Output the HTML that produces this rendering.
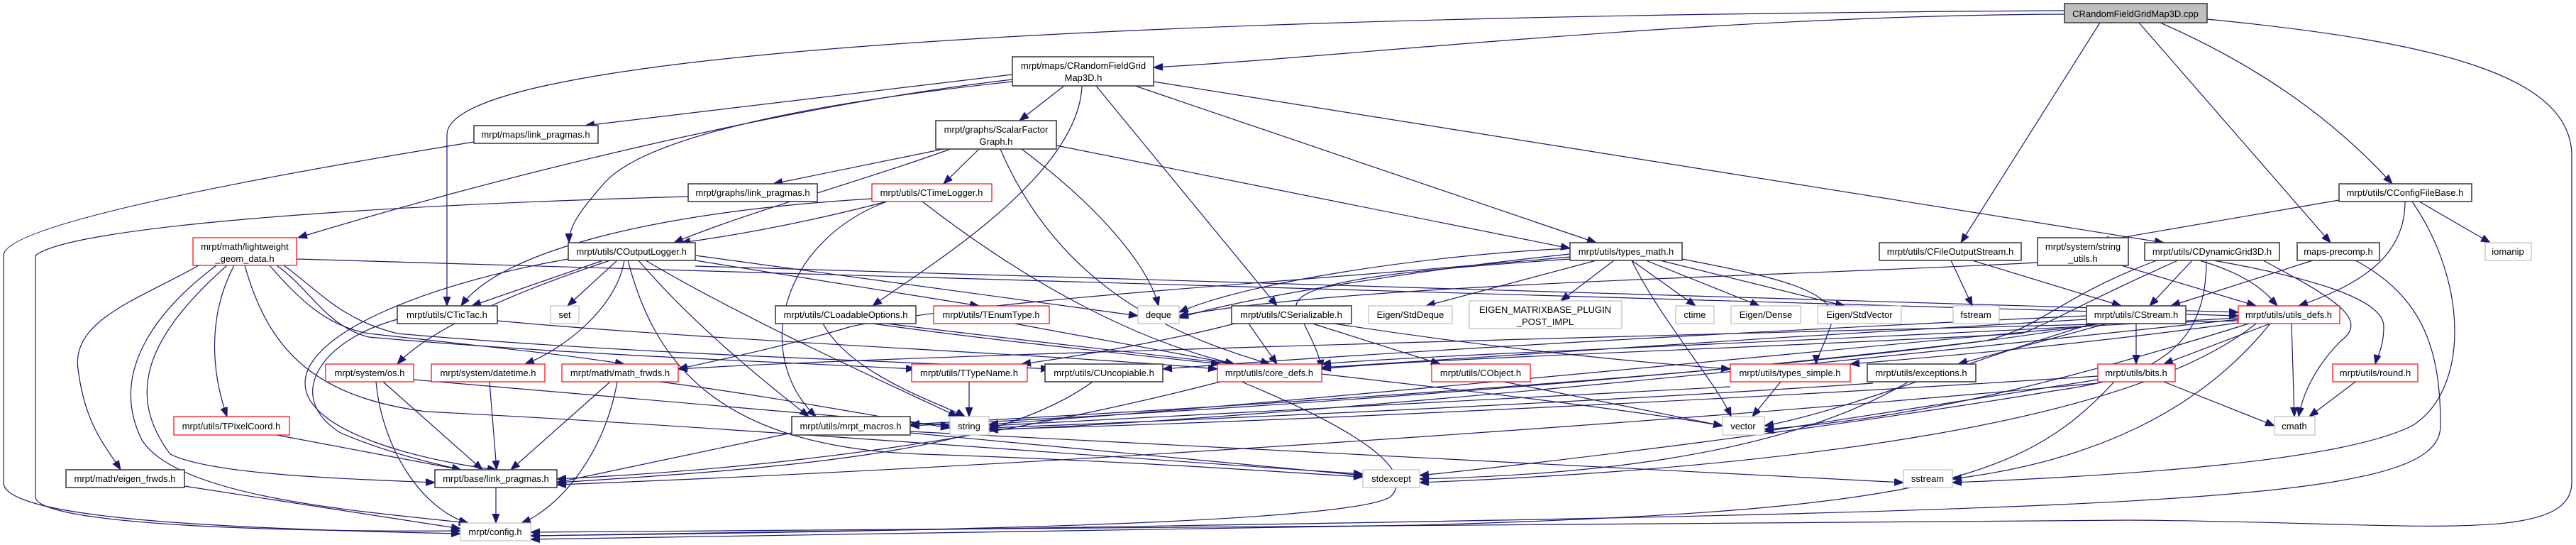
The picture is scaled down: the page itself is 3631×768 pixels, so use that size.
<!DOCTYPE html>
<html><head><meta charset="utf-8"><style>
html,body{margin:0;padding:0;background:#fff;}
svg{display:block;}
text{font-family:"Liberation Sans",sans-serif;font-size:13px;fill:#000;}
.e{fill:none;stroke:#191970;stroke-width:1.2;marker-end:url(#a);}
.b{fill:#fff;stroke:#404040;stroke-width:1.6;}
.r{fill:#fff;stroke:#ff0000;stroke-width:1.2;}
.g{fill:#fff;stroke:#bfbfbf;stroke-width:1.2;}
</style></head><body>
<svg width="3631" height="768" viewBox="0 0 3631 768" xmlns="http://www.w3.org/2000/svg">
<defs><marker id="a" markerUnits="userSpaceOnUse" markerWidth="14" markerHeight="12" refX="13" refY="5" orient="auto"><path d="M0,0 L13,5 L0,10 z" fill="#191970" stroke="#191970"/></marker></defs>
<g>
<!-- cpp -->
<path class="e" d="M2910,20 C2400,22 1900,80 1626,95"/>
<path class="e" d="M2910,15 C1200,25 630,100 630,190 L630,431"/>
<path class="e" d="M2960,32 L2764,342"/>
<path class="e" d="M3015,32 L3285,342"/>
<path class="e" d="M3045,32 C3200,100 3300,180 3372,259"/>
<path class="e" d="M3111,27 C3450,60 3625,110 3625,220 L3625,680 C3625,770 3400,735 3000,733 L748,750"/>
<!-- RFG -->
<path class="e" d="M1427,105 L825,177"/>
<path class="e" d="M1427,112 C1100,150 700,250 420,335"/>
<path class="e" d="M1427,115 C1100,150 900,200 850,260 C815,300 802,320 802,342"/>
<path class="e" d="M1500,121 L1437,170"/>
<path class="e" d="M1525,121 C1520,250 1300,380 1230,431"/>
<path class="e" d="M1545,121 L1800,431"/>
<path class="e" d="M1600,121 L2250,342"/>
<path class="e" d="M1626,115 L3050,342"/>
<!-- link pragmas to config -->
<path class="e" d="M668,200 C300,260 5,320 5,360 L5,680 C5,730 300,745 649,752"/>
<path class="e" d="M970,277 C500,290 100,320 50,360 L50,700 C50,740 400,750 649,748"/>
<!-- SFG -->
<path class="e" d="M1330,210 L1090,259"/>
<path class="e" d="M1340,210 C1200,260 1050,300 950,342"/>
<path class="e" d="M1380,210 L1330,259"/>
<path class="e" d="M1410,210 C1500,420 1680,480 1790,513"/>
<path class="e" d="M1440,210 C1560,300 1620,380 1633,431"/>
<path class="e" d="M1489,205 L2213,350"/>
<!-- CTL -->
<path class="e" d="M1250,284 C1150,310 1050,330 960,342"/>
<path class="e" d="M1229,280 C900,300 700,360 650,431"/>
<path class="e" d="M1250,284 C1100,340 1060,500 1150,587"/>
<path class="e" d="M1300,284 C1450,400 1600,480 1740,513"/>
<!-- COL -->
<path class="e" d="M850,367 L665,431"/>
<path class="e" d="M870,367 L800,431"/>
<path class="e" d="M860,367 C700,420 600,470 560,513"/>
<path class="e" d="M880,367 C870,430 800,490 740,513"/>
<path class="e" d="M980,367 L1380,431"/>
<path class="e" d="M980,360 L1604,445"/>
<path class="e" d="M900,367 C980,460 1080,540 1140,587"/>
<path class="e" d="M910,367 C1050,450 1250,540 1350,587"/>
<path class="e" d="M801,365 C600,400 430,470 430,540 C430,610 600,650 700,662"/>
<path class="e" d="M885,367 C920,500 1000,630 1300,640 C1600,650 1800,665 1921,672"/>
<path class="e" d="M980,375 L3155,440"/>
<!-- LGD -->
<path class="e" d="M280,374 C200,420 100,450 110,520 C120,600 150,630 170,662"/>
<path class="e" d="M330,374 C290,450 300,530 320,587"/>
<path class="e" d="M305,374 C230,430 150,520 200,620 C250,700 500,720 660,737"/>
<path class="e" d="M320,374 C200,480 180,560 240,640 C300,670 500,675 613,680"/>
<path class="e" d="M380,374 C420,420 460,460 520,470 C700,490 800,500 880,513"/>
<path class="e" d="M390,374 C440,410 460,460 520,475 C800,500 1100,510 1290,520"/>
<path class="e" d="M400,374 C450,410 480,450 560,470 C900,500 1300,510 1480,520"/>
<path class="e" d="M418,365 L3155,445"/>
<path class="e" d="M345,374 C380,500 450,560 600,580 C1000,600 1500,640 1921,668"/>
<!-- TicTac -->
<path class="e" d="M560,450 C450,480 400,560 480,610 C550,640 620,655 650,662"/>
<path class="e" d="M701,452 C1000,480 1500,500 1716,520"/>
<!-- row 513 -->
<path class="e" d="M530,538 C540,640 600,720 660,737"/>
<path class="e" d="M540,538 L680,662"/>
<path class="e" d="M583,535 C900,560 1200,590 1339,600"/>
<path class="e" d="M690,538 L700,662"/>
<path class="e" d="M860,538 L720,662"/>
<path class="e" d="M870,538 C850,650 780,720 735,737"/>
<path class="e" d="M930,538 C1100,560 1250,590 1339,603"/>
<path class="e" d="M390,613 L650,662"/>
<path class="e" d="M260,685 L649,745"/>
<path class="e" d="M699,687 L699,737"/>
<!-- CLO TET CSer -->
<path class="e" d="M1160,456 C1200,530 1330,570 1360,587"/>
<path class="e" d="M1230,456 C1400,480 1600,500 1720,513"/>
<path class="e" d="M1250,456 C1600,500 2200,560 2428,600"/>
<path class="e" d="M1430,456 L1740,513"/>
<path class="e" d="M1850,456 L2030,513"/>
<path class="e" d="M1880,456 C2100,490 2300,510 2439,520"/>
<path class="e" d="M1740,456 C1650,480 1500,505 1440,513"/>
<path class="e" d="M1760,456 L1800,513"/>
<path class="e" d="M1366,538 L1366,587"/>
<path class="e" d="M1540,538 C1400,640 1100,660 785,680"/>
<path class="e" d="M1750,538 C1900,600 2000,660 1960,700 C1900,740 1200,750 748,755"/>
<path class="e" d="M1720,538 C1400,620 1100,660 785,675"/>
<path class="e" d="M1116,610 L785,680"/>
<path class="e" d="M1283,608 L2683,680"/>
<path class="e" d="M1283,610 L1921,670"/>
<path class="e" d="M2120,538 L2428,600"/>
<path class="e" d="M2510,538 L2470,587"/>
<path class="e" d="M2439,545 L1394,600"/>
<path class="e" d="M2690,538 C2500,650 2200,670 2001,675"/>
<path class="e" d="M2640,540 C2200,570 1600,595 1394,603"/>
<!-- TM -->
<path class="e" d="M2213,350 C2000,360 1750,400 1662,440"/>
<path class="e" d="M2213,358 C2000,380 1750,420 1662,448"/>
<path class="e" d="M2250,367 L2010,431"/>
<path class="e" d="M2275,367 L2200,424"/>
<path class="e" d="M2300,367 L2390,431"/>
<path class="e" d="M2320,367 L2480,431"/>
<path class="e" d="M2340,367 L2600,431"/>
<path class="e" d="M2300,367 C2340,450 2420,540 2440,587"/>
<path class="e" d="M2213,362 C1800,400 1400,420 1200,460 C1100,490 1000,510 956,520"/>
<path class="e" d="M2371,365 C2500,390 2600,410 2580,460 C2570,490 2560,505 2560,513"/>
<path class="e" d="M2213,365 C2000,380 1800,395 1830,440 C1850,480 1860,500 1863,520"/>
<!-- CFOS SU DG MP CCFB -->
<path class="e" d="M2750,367 L2780,431"/>
<path class="e" d="M2780,367 L2990,431"/>
<path class="e" d="M2872,370 C2500,390 1900,400 1662,445"/>
<path class="e" d="M2990,374 L3180,431"/>
<path class="e" d="M3090,367 L3030,431"/>
<path class="e" d="M3100,367 C3180,390 3200,420 3210,431"/>
<path class="e" d="M3120,367 C3250,390 3360,420 3360,460 C3360,490 3350,505 3348,513"/>
<path class="e" d="M3190,367 C3290,420 3340,450 3300,480 C3260,520 3245,560 3240,587"/>
<path class="e" d="M3070,367 C2950,420 2900,450 2850,470 C2500,490 2000,505 1863,520"/>
<path class="e" d="M3040,367 C2900,420 2880,460 2800,480 C2300,540 1700,580 1283,600"/>
<path class="e" d="M3110,367 C3110,480 3050,530 2900,550 C2600,600 2200,650 2001,670"/>
<path class="e" d="M3260,367 L3060,431"/>
<path class="e" d="M3320,367 C3420,420 3440,500 3440,600 C3440,720 3000,720 748,755"/>
<path class="e" d="M3297,282 L2960,340"/>
<path class="e" d="M3390,284 C3390,360 3330,400 3240,431"/>
<path class="e" d="M3410,284 L3510,342"/>
<path class="e" d="M3400,284 C3480,400 3480,550 3400,600 C3300,650 3000,670 2752,680"/>
<!-- CStream -->
<path class="e" d="M3011,456 L3011,513"/>
<path class="e" d="M2970,456 L2760,513"/>
<path class="e" d="M2941,450 C2600,470 2100,500 1863,518"/>
<path class="e" d="M2941,445 C2400,470 1900,500 1639,520"/>
<path class="e" d="M2941,460 C2500,500 1800,570 1394,598"/>
<path class="e" d="M2950,456 C2800,500 2600,580 2487,600"/>
<path class="e" d="M2960,456 C2600,520 1800,570 1283,598"/>
<!-- UD -->
<path class="e" d="M3200,456 L3050,513"/>
<path class="e" d="M3230,456 L3234,587"/>
<path class="e" d="M3170,456 C2900,540 2700,590 2487,605"/>
<path class="e" d="M3155,450 C2500,520 1800,590 1394,606"/>
<path class="e" d="M3200,456 C3100,580 2950,650 2752,675"/>
<path class="e" d="M3180,456 C3000,600 2500,660 2001,680"/>
<path class="e" d="M3155,455 C2900,490 2700,505 2608,513"/>
<path class="e" d="M3155,452 C2000,480 1200,505 956,520"/>
<path class="e" d="M3155,448 C2600,480 2000,500 1863,513"/>
<!-- bits round -->
<path class="e" d="M3050,538 L3206,600"/>
<path class="e" d="M2980,538 C2850,680 2700,720 2000,740 C1500,750 1000,755 748,760"/>
<path class="e" d="M2957,530 C2500,560 1800,595 1394,605"/>
<path class="e" d="M2957,535 C2800,560 2600,590 2487,608"/>
<path class="e" d="M2957,540 C2300,600 1400,660 785,683"/>
<path class="e" d="M3320,538 L3255,587"/>
</g>
<g>
<rect x="2910" y="5" width="201" height="27" fill="#bfbfbf" stroke="#404040" stroke-width="1.6"/>
<text x="3010" y="24" text-anchor="middle">CRandomFieldGridMap3D.cpp</text>

<rect class="b" x="1427" y="80" width="199" height="41"/>
<text x="1527" y="97" text-anchor="middle">mrpt/maps/CRandomFieldGrid</text><text x="1527" y="114" text-anchor="middle">Map3D.h</text>

<rect class="b" x="668" y="177" width="175" height="25"/><text x="755" y="194" text-anchor="middle">mrpt/maps/link_pragmas.h</text>
<rect class="b" x="1319" y="170" width="170" height="40"/><text x="1404" y="187" text-anchor="middle">mrpt/graphs/ScalarFactor</text><text x="1404" y="204" text-anchor="middle">Graph.h</text>

<rect class="b" x="970" y="259" width="182" height="25"/><text x="1061" y="276" text-anchor="middle">mrpt/graphs/link_pragmas.h</text>
<rect class="r" x="1229" y="259" width="169" height="25"/><text x="1313" y="276" text-anchor="middle">mrpt/utils/CTimeLogger.h</text>
<rect class="b" x="3297" y="259" width="187" height="25"/><text x="3390" y="276" text-anchor="middle">mrpt/utils/CConfigFileBase.h</text>

<rect class="r" x="272" y="335" width="146" height="39"/><text x="345" y="352" text-anchor="middle">mrpt/math/lightweight</text><text x="345" y="369" text-anchor="middle">_geom_data.h</text>
<rect class="b" x="801" y="342" width="179" height="25"/><text x="890" y="359" text-anchor="middle">mrpt/utils/COutputLogger.h</text>
<rect class="b" x="2213" y="342" width="158" height="25"/><text x="2292" y="359" text-anchor="middle">mrpt/utils/types_math.h</text>
<rect class="b" x="2649" y="342" width="200" height="25"/><text x="2749" y="359" text-anchor="middle">mrpt/utils/CFileOutputStream.h</text>
<rect class="b" x="2872" y="335" width="128" height="39"/><text x="2936" y="352" text-anchor="middle">mrpt/system/string</text><text x="2936" y="369" text-anchor="middle">_utils.h</text>
<rect class="b" x="3023" y="342" width="190" height="25"/><text x="3118" y="359" text-anchor="middle">mrpt/utils/CDynamicGrid3D.h</text>
<rect class="b" x="3238" y="342" width="116" height="25"/><text x="3296" y="359" text-anchor="middle">maps-precomp.h</text>
<rect class="g" x="3503" y="342" width="65" height="25"/><text x="3535" y="359" text-anchor="middle">iomanip</text>

<rect class="b" x="560" y="431" width="141" height="25"/><text x="630" y="448" text-anchor="middle">mrpt/utils/CTicTac.h</text>
<rect class="g" x="776" y="431" width="40" height="25"/><text x="796" y="448" text-anchor="middle">set</text>
<rect class="b" x="1093" y="431" width="198" height="25"/><text x="1192" y="448" text-anchor="middle">mrpt/utils/CLoadableOptions.h</text>
<rect class="r" x="1316" y="431" width="163" height="25"/><text x="1397" y="448" text-anchor="middle">mrpt/utils/TEnumType.h</text>
<rect class="g" x="1604" y="431" width="58" height="25"/><text x="1633" y="448" text-anchor="middle">deque</text>
<rect class="b" x="1736" y="431" width="169" height="25"/><text x="1820" y="448" text-anchor="middle">mrpt/utils/CSerializable.h</text>
<rect class="g" x="1929" y="431" width="118" height="25"/><text x="1988" y="448" text-anchor="middle">Eigen/StdDeque</text>
<rect class="g" x="2071" y="424" width="215" height="39"/><text x="2178" y="441" text-anchor="middle">EIGEN_MATRIXBASE_PLUGIN</text><text x="2178" y="458" text-anchor="middle">_POST_IMPL</text>
<rect class="g" x="2362" y="431" width="54" height="25"/><text x="2389" y="448" text-anchor="middle">ctime</text>
<rect class="g" x="2440" y="431" width="98" height="25"/><text x="2489" y="448" text-anchor="middle">Eigen/Dense</text>
<rect class="g" x="2562" y="431" width="118" height="25"/><text x="2621" y="448" text-anchor="middle">Eigen/StdVector</text>
<rect class="g" x="2753" y="431" width="65" height="25"/><text x="2785" y="448" text-anchor="middle">fstream</text>
<rect class="b" x="2941" y="431" width="140" height="25"/><text x="3011" y="448" text-anchor="middle">mrpt/utils/CStream.h</text>
<rect class="r" x="3155" y="431" width="143" height="25"/><text x="3226" y="448" text-anchor="middle">mrpt/utils/utils_defs.h</text>

<rect class="r" x="459" y="513" width="124" height="25"/><text x="521" y="530" text-anchor="middle">mrpt/system/os.h</text>
<rect class="r" x="608" y="513" width="160" height="25"/><text x="688" y="530" text-anchor="middle">mrpt/system/datetime.h</text>
<rect class="r" x="792" y="513" width="164" height="25"/><text x="874" y="530" text-anchor="middle">mrpt/math/math_frwds.h</text>
<rect class="r" x="1285" y="513" width="163" height="25"/><text x="1366" y="530" text-anchor="middle">mrpt/utils/TTypeName.h</text>
<rect class="b" x="1473" y="513" width="166" height="25"/><text x="1556" y="530" text-anchor="middle">mrpt/utils/CUncopiable.h</text>
<rect class="r" x="1716" y="513" width="147" height="25"/><text x="1789" y="530" text-anchor="middle">mrpt/utils/core_defs.h</text>
<rect class="r" x="2018" y="513" width="139" height="25"/><text x="2087" y="530" text-anchor="middle">mrpt/utils/CObject.h</text>
<rect class="r" x="2439" y="513" width="169" height="25"/><text x="2523" y="530" text-anchor="middle">mrpt/utils/types_simple.h</text>
<rect class="b" x="2632" y="513" width="153" height="25"/><text x="2708" y="530" text-anchor="middle">mrpt/utils/exceptions.h</text>
<rect class="r" x="2957" y="513" width="109" height="25"/><text x="3011" y="530" text-anchor="middle">mrpt/utils/bits.h</text>
<rect class="r" x="3288" y="513" width="120" height="25"/><text x="3348" y="530" text-anchor="middle">mrpt/utils/round.h</text>

<rect class="r" x="245" y="587" width="163" height="26"/><text x="326" y="605" text-anchor="middle">mrpt/utils/TPixelCoord.h</text>
<rect class="b" x="1116" y="587" width="167" height="26"/><text x="1199" y="605" text-anchor="middle">mrpt/utils/mrpt_macros.h</text>
<rect class="g" x="1339" y="587" width="55" height="26"/><text x="1366" y="605" text-anchor="middle">string</text>
<rect class="g" x="2428" y="587" width="59" height="26"/><text x="2457" y="605" text-anchor="middle">vector</text>
<rect class="g" x="3206" y="587" width="57" height="26"/><text x="3234" y="605" text-anchor="middle">cmath</text>

<rect class="b" x="93" y="662" width="167" height="25"/><text x="176" y="679" text-anchor="middle">mrpt/math/eigen_frwds.h</text>
<rect class="b" x="613" y="662" width="172" height="25"/><text x="699" y="679" text-anchor="middle">mrpt/base/link_pragmas.h</text>
<rect class="g" x="1921" y="662" width="80" height="25"/><text x="1961" y="679" text-anchor="middle">stdexcept</text>
<rect class="g" x="2683" y="662" width="69" height="25"/><text x="2717" y="679" text-anchor="middle">sstream</text>

<rect class="g" x="649" y="737" width="99" height="25"/><text x="698" y="754" text-anchor="middle">mrpt/config.h</text>
</g>
</svg>
</body></html>
